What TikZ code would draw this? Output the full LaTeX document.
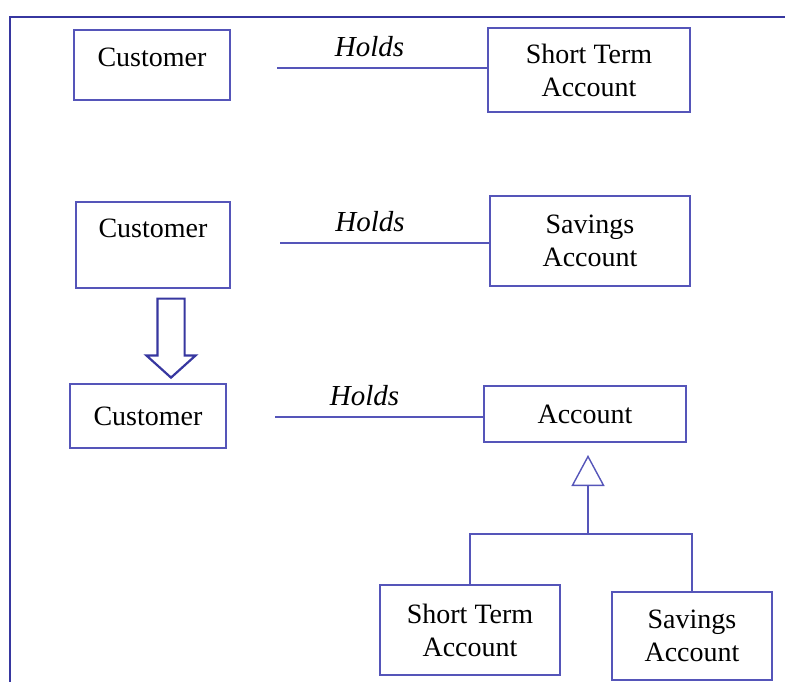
\documentclass[tikz,border=0pt]{standalone}
\usepackage{fontspec}
\setmainfont{Liberation Serif}
\usetikzlibrary{positioning, arrows.meta, shapes.arrows}
\definecolor{umlblue}{RGB}{85,85,185}
\definecolor{darkblue}{RGB}{55,55,160}

\begin{document}
\begin{tikzpicture}[
          x=1pt, y=-1pt,
          font=\fontsize{28pt}{33pt}\selectfont,
          box/.style={draw=umlblue, line width=1.4pt, align=center, inner sep=0pt},
          assoc/.style={draw=umlblue, line width=1.4pt},
          rolename/.style={above=7pt, font=\fontsize{29pt}{32pt}\selectfont\itshape},
          gen/.style={draw=umlblue, line width=1.4pt, -{Triangle[open, length=31pt, width=33pt, line width=1.4pt]}}
      ]
          \useasboundingbox (0,0) rectangle (785,682);
          \draw[darkblue, line width=1.5pt] (10,682) -- (10,17) -- (785,17);

          % Erste Variante: Kunde haelt Kurzzeitkonto
          \node[box, minimum width=156pt, minimum height=70pt, text depth=16pt] (cust_a) at (152,65) {Customer};
          \node[box, minimum width=202pt, minimum height=84pt] (sta_a) at (589,70) {Short Term\\Account};
          \coordinate (hold_a) at (277,68);
          \draw[assoc] (hold_a) -- node[rolename, pos=0.44] (role_a) {Holds} (hold_a -| sta_a.west);

          % Zweite Variante: Kunde haelt Sparkonto
          \node[box, minimum width=154pt, minimum height=86pt, text depth=34pt] (cust_b) at (153,245) {Customer};
          \node[box, minimum width=200pt, minimum height=90pt] (sav_a) at (590,241) {Savings\\Account};
          \coordinate (hold_b) at (280,243);
          \draw[assoc] (hold_b) -- node[rolename, pos=0.43] (role_b) {Holds} (hold_b -| sav_a.west);

          % Pfeil nach unten
          \node[single arrow, draw=darkblue, line width=2.2pt, shape border rotate=270, minimum height=79pt, single arrow head extend=11pt, single arrow tip angle=96, inner sep=12.5pt] (down) at (171,332) {};

          % Verallgemeinerung: Kunde haelt Konto
          \node[box, minimum width=156pt, minimum height=64pt] (cust_c) at (148,416) {Customer};
          \node[box, minimum width=202pt, minimum height=56pt] (acc) at (585,414) {Account};
          \coordinate (hold_c) at (275,417);
          \draw[assoc] (hold_c) -- node[rolename, pos=0.43] (role_c) {Holds} (hold_c -| acc.west);

          \node[box, minimum width=180pt, minimum height=90pt] (sta_b) at (470,630) {Short Term\\Account};
          \node[box, minimum width=160pt, minimum height=88pt] (sav_b) at (692,636) {Savings\\Account};

          \coordinate (gen_mid) at (588,534);
          \coordinate (gen_tip) at (588,455);
          \draw[assoc] (sta_b.north) |- (gen_mid) -| (sav_b.north);
          \draw[gen] (gen_mid) -- (gen_tip);
      \end{tikzpicture}
\end{document}
